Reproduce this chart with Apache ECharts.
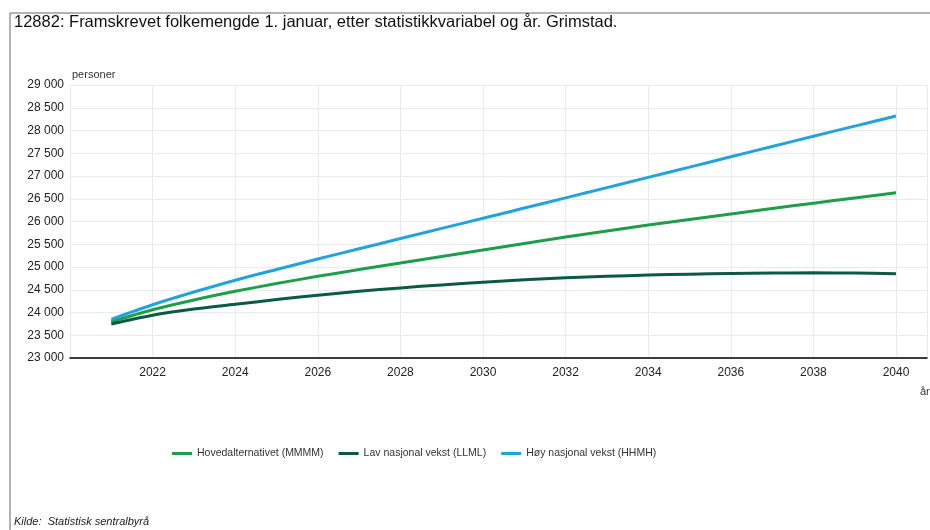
<!DOCTYPE html>
<html>
<head>
<meta charset="utf-8">
<script src="https://cdn.jsdelivr.net/npm/echarts@6/dist/echarts.min.js"></script>
<style>
html,body{margin:0;padding:0;background:#fff;}
#chart{width:930px;height:530px;}
</style>
</head>
<body>
<div id="chart"></div>
<script>
const years = [2021,2022,2023,2024,2025,2026,2027,2028,2029,2030,2031,2032,2033,2034,2035,2036,2037,2038,2039,2040];
const seriesNames = ['Hovedalternativet (MMMM)', 'Lav nasjonal vekst (LLML)', 'Høy nasjonal vekst (HHMH)'];
const mmmm = [23798,24060,24275,24465,24637,24795,24943,25088,25231,25374,25517,25657,25792,25921,26045,26167,26287,26403,26518,26633];
const llml = [23747,23940,24075,24180,24285,24380,24465,24540,24607,24665,24718,24762,24797,24822,24842,24857,24867,24872,24866,24853];
const hhmh = [23850,24170,24450,24710,24945,25175,25400,25625,25848,26070,26295,26520,26745,26970,27195,27422,27648,27874,28097,28319];
const titleText = '12882: Framskrevet folkemengde 1. januar, etter statistikkvariabel og år. Grimstad.';
const yUnit = 'personer';
const xUnit = 'år';
const sourceText = 'Kilde:  Statistisk sentralbyrå';
const colors = ['#1f9e4a', '#0a5a46', '#22a3dd'];

function pairs(vals){ return years.map((y,i)=>[y, vals[i]]); }
function fmtThousands(v){ return String(v).replace(/\B(?=(\d{3})+(?!\d))/g, ' '); }

const chart = echarts.init(document.getElementById('chart'));
const font = 'Liberation Sans, Arial, sans-serif';
chart.setOption({
  animation: false,
  textStyle: {fontFamily: font},
  graphic: [
    {type:'rect', shape:{x:10, y:13, width:940, height:540}, style:{fill:'none', stroke:'#666', lineWidth:1}, silent:true},
    {type:'text', left:14, top:14, style:{text:titleText, font:'16.5px ' + font, fill:'#111'}},
    {type:'text', left:72, top:69, style:{text:yUnit, font:'11px ' + font, fill:'#333'}},
    {type:'text', left:920, top:386, style:{text:xUnit, font:'11px ' + font, fill:'#333'}},
    {type:'text', left:14, top:516, style:{text:sourceText, font:'italic 11px ' + font, fill:'#222'}}
  ],
  legend: {
    left: 167, top: 443,
    icon: 'rect', itemWidth: 20, itemHeight: 3, itemGap: 15,
    textStyle: {fontSize: 10.5, color: '#333', fontFamily: font},
    data: seriesNames
  },
  grid: {left: 70, right: 0, top: 85, bottom: 172, containLabel: false},
  xAxis: {
    type: 'value', min: 2020, max: 2040.75, interval: 2,
    axisLine: {show: true, lineStyle: {color: '#000', width: 1.5}},
    axisTick: {show: false},
    axisLabel: {color: '#222', fontSize: 12, margin: 9,
      formatter: v => (Number.isInteger(v) && v > 2020 && v % 2 === 0) ? String(v) : ''},
    splitLine: {show: true, lineStyle: {color: '#e8eaec'}}
  },
  yAxis: {
    type: 'value', min: 23000, max: 29000, interval: 500,
    axisLine: {show: false}, axisTick: {show: false},
    axisLabel: {color: '#222', fontSize: 12, margin: 6, formatter: v => fmtThousands(v)},
    splitLine: {show: true, lineStyle: {color: '#e8eaec'}}
  },
  series: [
    {name: seriesNames[0], type: 'line', data: pairs(mmmm), showSymbol: false, smooth: 0.3, lineStyle: {width: 3, color: colors[0]}, itemStyle: {color: colors[0]}},
    {name: seriesNames[1], type: 'line', data: pairs(llml), showSymbol: false, smooth: 0.3, lineStyle: {width: 3, color: colors[1]}, itemStyle: {color: colors[1]}},
    {name: seriesNames[2], type: 'line', data: pairs(hhmh), showSymbol: false, smooth: 0.3, lineStyle: {width: 3, color: colors[2]}, itemStyle: {color: colors[2]}}
  ]
});
</script>
</body>
</html>
